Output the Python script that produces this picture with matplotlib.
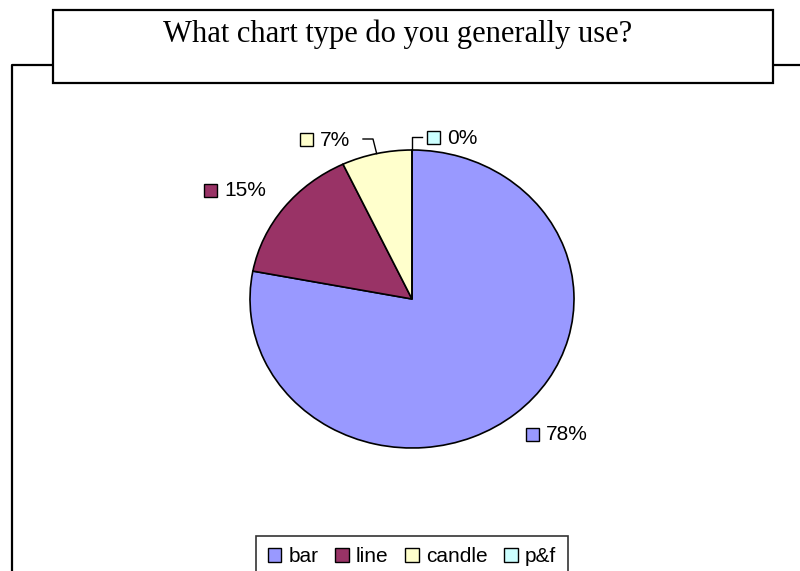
"""Survey pie: which chart type people generally use."""
import matplotlib
matplotlib.use("Agg")
import matplotlib.pyplot as plt
from matplotlib.patches import Patch, Rectangle
import numpy as np

TITLE = "What chart type do you generally use?"
CATEGORIES = ["bar", "line", "candle", "p&f"]
SHARES = [78, 15, 7, 0]
COLORS = ["#9999FF", "#993366", "#FFFFCC", "#CCFFFF"]

W, H = 800, 571


def fx(x):
    return x / W


def fy(y):
    return 1 - y / H


fig = plt.figure(figsize=(W / 100, H / 100), dpi=100)
plt.rcParams["font.family"] = ["Liberation Sans", "DejaVu Sans"]

# outer chart frame (runs off the bottom/right of the picture)
fig.add_artist(plt.Line2D([fx(12), fx(12), 1.0], [0.0, fy(65), fy(65)],
                          color="black", lw=1.6, transform=fig.transFigure))

# title box
fig.add_artist(Rectangle((fx(53), fy(83)), fx(773) - fx(53), fy(10) - fy(83),
                         transform=fig.transFigure, facecolor="white",
                         edgecolor="black", lw=1.6, zorder=3))
fig.text(fx(398), fy(34), TITLE, ha="center", va="center", fontsize=22,
         family=["Liberation Serif", "DejaVu Serif"], zorder=4)

# pie, drawn as an ellipse (axes stretched over it)
cx, cy, rx, ry = 412, 299, 162, 149
ax = fig.add_axes([fx(cx - rx), fy(cy + ry), 2 * rx / W, 2 * ry / H])
wedges, _ = ax.pie(SHARES, colors=COLORS, startangle=90, counterclock=False,
                   wedgeprops=dict(edgecolor="black", linewidth=1.2))
ax.set_xlim(-1, 1)
ax.set_ylim(-1, 1)
ax.set_aspect("auto")
ax.axis("off")

# data labels: key square + percent text; positions follow the Excel layout
label_pos = [(526, 435), (204, 191), (300, 140), (427, 138)]
leaders = [False, False, True, True]
for w, share, col, (lx, ly), lead in zip(wedges, SHARES, COLORS, label_pos, leaders):
    fig.add_artist(Rectangle((fx(lx), fy(ly + 6)), 13 / W, 13 / H,
                             transform=fig.transFigure, facecolor=col,
                             edgecolor="black", lw=1.0))
    fig.text(fx(lx + 20), fy(ly), f"{share:.0f}%", ha="left", va="center",
             fontsize=15)
    if lead:
        mid = np.deg2rad((w.theta1 + w.theta2) / 2)
        px = cx + rx * np.cos(mid)
        py = cy - ry * np.sin(mid)
        if px < cx - 5:
            xs = [lx + 63, lx + 73, px]
            ys = [ly - 1, ly - 1, py]
        else:
            xs = [px, px, lx - 5]
            ys = [py, ly - 1, ly - 1]
        fig.add_artist(plt.Line2D([fx(v) for v in xs], [fy(v) for v in ys],
                                  color="black", lw=1.0,
                                  transform=fig.transFigure))

# legend box runs off the bottom edge, as in the source
handles = [Patch(facecolor=c, edgecolor="black", lw=1.0) for c in COLORS]
leg = fig.legend(handles, CATEGORIES, loc="upper center",
                 bbox_to_anchor=(fx(cx), fy(536)), ncol=4, fontsize=15,
                 frameon=True, fancybox=False, edgecolor="black",
                 handlelength=0.65, handleheight=0.65, handletextpad=0.35,
                 columnspacing=0.8, borderpad=0.55, borderaxespad=0)
leg.get_frame().set_linewidth(1.2)

fig.savefig("out.png", dpi=100)
